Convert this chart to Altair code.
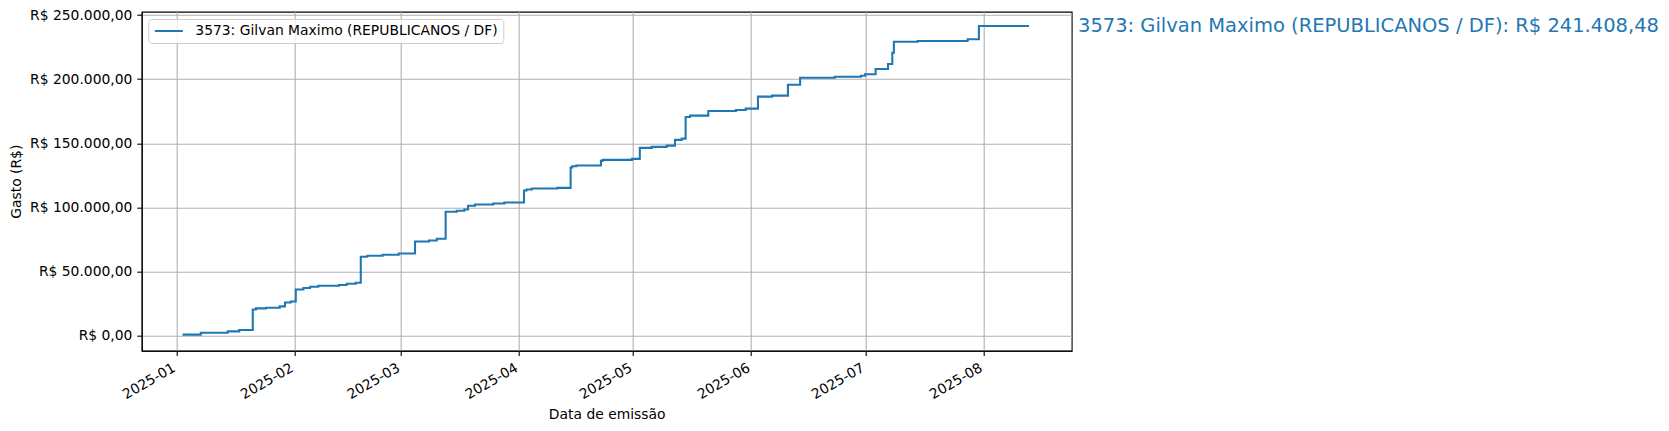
import altair as alt
import pandas as pd

# ---- data ----
datas = [
    "2025-01-02T15:00:00Z", "2025-01-07T10:00:00Z", "2025-01-14T12:00:00Z", "2025-01-17T13:00:00Z",
    "2025-01-21T02:00:00Z", "2025-01-21T22:00:00Z", "2025-01-24T13:00:00Z", "2025-01-28T04:00:00Z",
    "2025-01-29T13:00:00Z", "2025-01-31T01:00:00Z", "2025-02-01T09:00:00Z", "2025-02-03T09:00:00Z",
    "2025-02-05T03:00:00Z", "2025-02-07T07:00:00Z", "2025-02-12T18:00:00Z", "2025-02-14T18:00:00Z",
    "2025-02-17T03:00:00Z", "2025-02-18T11:00:00Z", "2025-02-20T04:00:00Z", "2025-02-24T05:00:00Z",
    "2025-02-28T10:00:00Z", "2025-03-04T17:00:00Z", "2025-03-08T09:00:00Z", "2025-03-10T10:00:00Z",
    "2025-03-12T18:00:00Z", "2025-03-15T16:00:00Z", "2025-03-17T16:00:00Z", "2025-03-18T15:00:00Z",
    "2025-03-20T11:00:00Z", "2025-03-25T06:00:00Z", "2025-03-28T04:00:00Z", "2025-04-02T08:00:00Z",
    "2025-04-03T00:00:00Z", "2025-04-04T09:00:00Z", "2025-04-11T02:00:00Z", "2025-04-14T14:00:00Z",
    "2025-04-15T00:00:00Z", "2025-04-16T02:00:00Z", "2025-04-22T13:00:00Z", "2025-04-23T00:00:00Z",
    "2025-04-30T17:00:00Z", "2025-05-02T18:00:00Z", "2025-05-05T21:00:00Z", "2025-05-09T20:00:00Z",
    "2025-05-12T00:00:00Z", "2025-05-13T18:00:00Z", "2025-05-14T19:00:00Z", "2025-05-15T23:00:00Z",
    "2025-05-20T18:00:00Z", "2025-05-28T00:00:00Z", "2025-05-30T14:00:00Z", "2025-06-02T19:00:00Z",
    "2025-06-06T12:00:00Z", "2025-06-10T16:00:00Z", "2025-06-13T21:00:00Z", "2025-06-22T23:00:00Z",
    "2025-06-29T20:00:00Z", "2025-06-30T22:00:00Z", "2025-07-03T17:00:00Z", "2025-07-06T23:00:00Z",
    "2025-07-08T02:00:00Z", "2025-07-08T12:00:00Z", "2025-07-14T18:00:00Z", "2025-07-27T21:00:00Z",
    "2025-07-30T20:00:00Z", "2025-08-13T00:00:00Z",
]
gasto_acumulado = [
    850, 2340, 3350, 4440,
    20480, 21260, 21800, 22820,
    25930, 26710, 36000, 37150,
    38160, 38940, 39480, 40500,
    41280, 61530, 62300, 63080,
    64100, 73440, 74220, 75540,
    96570, 97350, 98360, 101240,
    102260, 103030, 103810, 113150,
    113930, 114720, 115260, 131070,
    132160, 132630, 136290, 137070,
    137850, 146410, 147190, 148200,
    152640, 153650, 170560, 171570,
    175230, 176010, 177020, 186370,
    187150, 195710, 201160, 201940,
    202720, 203810, 207940, 211830,
    220630, 229120, 229740, 231070,
    241408.48, 241408.48,
]
serie = "3573: Gilvan Maximo (REPUBLICANOS / DF)"
total = 241408.48
meses_ticks = [1, 2, 3, 4, 5, 6, 7, 8]
y_ticks = [0, 50000, 100000, 150000, 200000, 250000]

COR = "#1f77b4"
FONTE = "DejaVu Sans"


def brl(v):
    s = f"{v:,.2f}".replace(",", "_").replace(".", ",").replace("_", ".")
    return "R$ " + s


df = pd.DataFrame({"data": datas, "gasto": gasto_acumulado, "serie": [serie] * len(datas)})
df_txt = pd.DataFrame({"data": [datas[-1]], "gasto": [total], "rotulo": [f"{serie}: {brl(total)}"]})

x_scale = alt.Scale(
    type="utc",
    domain=[
        alt.DateTime(year=2024, month=12, date=22, hours=21, minutes=50, utc=True),
        alt.DateTime(year=2025, month=8, date=24, hours=5, utc=True),
    ],
    nice=False,
)
y_scale = alt.Scale(domain=[-11700, 252600], nice=False, zero=False)

x_axis = alt.Axis(
    title="Data de emissão",
    values=[alt.DateTime(year=2025, month=m, date=1, utc=True) for m in meses_ticks],
    format="%Y-%m",
    labelAngle=330,
    labelAlign="right",
    labelBaseline="top",
    labelOffset=-6,
    titlePadding=6,
)
y_axis = alt.Axis(
    title="Gasto (R$)",
    values=y_ticks,
    labelExpr="'R$ ' + replace(replace(replace(format(datum.value, ',.2f'), regexp(',', 'g'), '_'), regexp('[.]', 'g'), ','), regexp('_', 'g'), '.')",
    titlePadding=6,
)

linha = alt.Chart(df).mark_line(interpolate="step-after", strokeWidth=2.08).encode(
    x=alt.X("data:T", scale=x_scale, axis=x_axis),
    y=alt.Y("gasto:Q", scale=y_scale, axis=y_axis),
    color=alt.Color(
        "serie:N",
        scale=alt.Scale(range=[COR]),
        legend=alt.Legend(
            title=None,
            orient="none",
            legendX=6.6,
            legendY=7.3,
            padding=5,
            strokeColor="#cccccc",
            fillColor="rgba(255,255,255,0.8)",
            cornerRadius=3,
            symbolType="stroke",
            symbolSize=784,
            symbolStrokeWidth=2.08,
            labelFont=FONTE,
            labelFontSize=13.9,
            labelColor="black",
            labelOffset=11,
            labelLimit=800,
            clipHeight=14,
        ),
    ),
)

rotulo = alt.Chart(df_txt).mark_text(
    align="left", baseline="middle", dx=49, fontSize=19.5, font=FONTE, color=COR
).encode(
    x=alt.X("data:T", scale=x_scale),
    y=alt.Y("gasto:Q", scale=y_scale),
    text="rotulo:N",
)

chart = (
    alt.layer(linha, rotulo)
    .properties(
        width=930,
        height=339,
        autosize=alt.AutoSizeParams(type="none"),
        padding={"left": 133.7, "top": 3.7, "right": 589, "bottom": 72},
    )
    .configure_view(stroke="black", strokeWidth=1.1)
    .configure_axis(
        labelFont=FONTE,
        labelFontSize=13.9,
        labelColor="black",
        titleFont=FONTE,
        titleFontSize=13.9,
        titleFontWeight="normal",
        titleColor="black",
        domainColor="black",
        domainWidth=1.1,
        tickColor="black",
        tickWidth=1.1,
        tickSize=4.9,
        labelPadding=4.9,
        gridColor="#b0b0b0",
        gridWidth=1.1,
        grid=True,
    )
)

chart.save("out.html", embed_options={"renderer": "svg", "actions": False})
